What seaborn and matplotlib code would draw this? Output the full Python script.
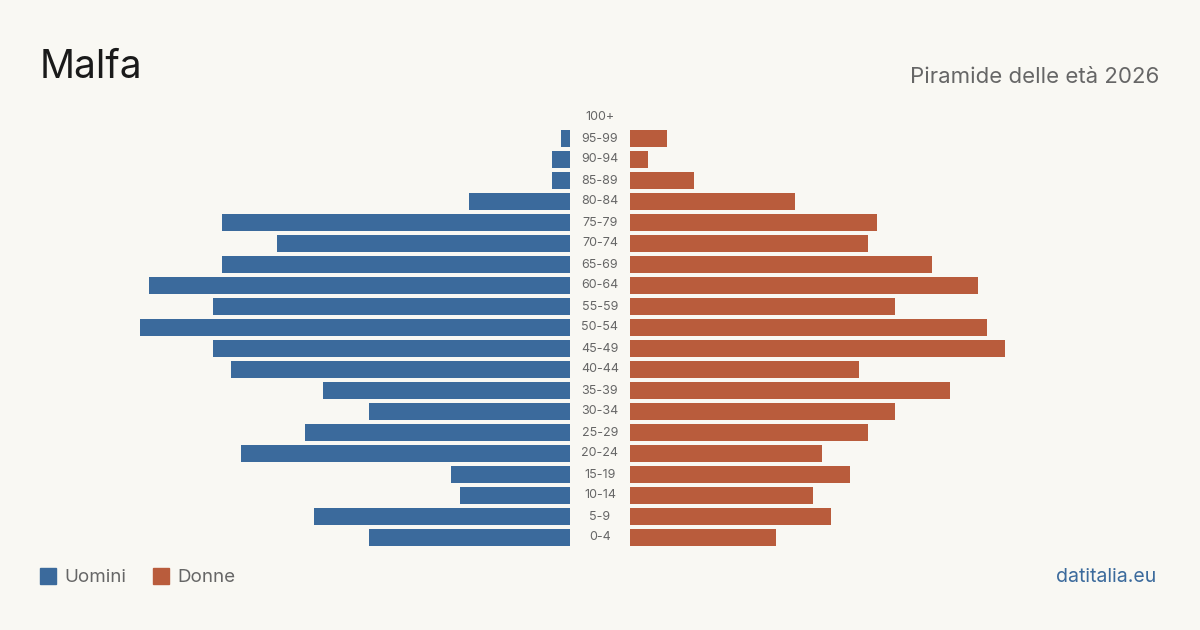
import pandas as pd
import matplotlib.pyplot as plt
import seaborn as sns
from matplotlib.patches import Rectangle

# Population pyramid, Malfa 2026
ages = ['100+', '95-99', '90-94', '85-89', '80-84', '75-79', '70-74', '65-69',
        '60-64', '55-59', '50-54', '45-49', '40-44', '35-39', '30-34',
        '25-29', '20-24', '15-19', '10-14', '5-9', '0-4']
uomini = [0, 1, 2, 2, 11, 38, 32, 38, 46, 39, 47, 39, 37, 27, 22, 29, 36, 13, 12, 28, 22]
donne = [0, 4, 2, 7, 18, 27, 26, 33, 38, 29, 39, 41, 25, 35, 29, 26, 21, 24, 20, 22, 16]

BG = '#f9f8f3'
BLUE = '#3b6a9c'
RED = '#b95c3c'

sns.set_theme(style='white')
plt.rcParams['font.family'] = ['Inter', 'DejaVu Sans']

df = pd.DataFrame({'age': ages, 'uomini': uomini, 'donne': donne})

fig = plt.figure(figsize=(12, 6.3), dpi=100, facecolor=BG)
W, H = 1200, 630
bottom = 1 - 548 / H
height = 441 / H
ax_m = fig.add_axes([40 / W, bottom, 530 / W, height])
ax_f = fig.add_axes([630 / W, bottom, 530 / W, height])

xmax = 530 / 9.15
sns.barplot(data=df, y='age', x='uomini', order=ages, color=BLUE,
            width=0.8, orient='h', ax=ax_m, saturation=1, linewidth=0)
sns.barplot(data=df, y='age', x='donne', order=ages, color=RED,
            width=0.8, orient='h', ax=ax_f, saturation=1, linewidth=0)
ax_m.set_xlim(xmax, 0)
ax_f.set_xlim(0, xmax)

for ax in (ax_m, ax_f):
    ax.set_facecolor(BG)
    ax.set_ylim(len(ages) - 0.5, -0.5)
    ax.set_xticks([])
    ax.set_yticks([])
    ax.set_xlabel('')
    ax.set_ylabel('')
    sns.despine(ax=ax, left=True, bottom=True)

# age labels in the gap between the two halves
for i, a in enumerate(ages):
    y = 1 - (117.5 + 21 * i) / H
    fig.text(600 / W, y, a, ha='center', va='center', fontsize=9, color='#666666')

fig.text(40 / W, 1 - 68 / H, 'Malfa', ha='left', va='center', fontsize=28, color='#1a1a1a')
fig.text(1159 / W, 1 - 77 / H, 'Piramide delle età 2026', ha='right', va='center',
         fontsize=16, color='#666666')

# legend
fig.patches.append(Rectangle((40 / W, 1 - 584 / H), 16 / W, 16 / H,
                             transform=fig.transFigure, color=BLUE))
fig.text(64 / W, 1 - 577 / H, 'Uomini', ha='left', va='center', fontsize=13.5, color='#666666')
fig.patches.append(Rectangle((153 / W, 1 - 584 / H), 16 / W, 16 / H,
                             transform=fig.transFigure, color=RED))
fig.text(177 / W, 1 - 577 / H, 'Donne', ha='left', va='center', fontsize=13.5, color='#666666')

fig.text(1156 / W, 1 - 577 / H, 'datitalia.eu', ha='right', va='center', fontsize=14, color=BLUE)

fig.savefig('out.png', dpi=100, facecolor=BG)
